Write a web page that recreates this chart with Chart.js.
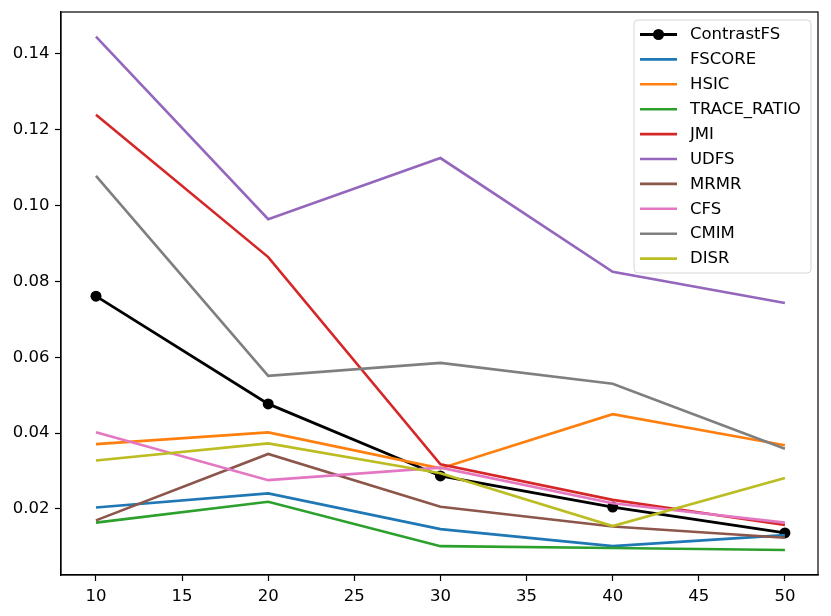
<!DOCTYPE html>
<html>
<head>
<meta charset="utf-8">
<script src="https://cdn.jsdelivr.net/npm/chart.js@4.4.0/dist/chart.umd.min.js"></script>
<style>
html,body{margin:0;padding:0;background:#fff;}
#wrap{width:831px;height:616px;}
</style>
</head>
<body>
<div id="wrap"><canvas id="c" width="831" height="616"></canvas></div>
<script>
const xValues = [10, 20, 30, 40, 50];
const xTicks = [10, 15, 20, 25, 30, 35, 40, 45, 50];
const yTicks = [0.02, 0.04, 0.06, 0.08, 0.10, 0.12, 0.14];
const seriesNames = ["ContrastFS","FSCORE","HSIC","TRACE_RATIO","JMI","UDFS","MRMR","CFS","CMIM","DISR"];
const contrastFS = [0.0761, 0.0477, 0.0287, 0.0205, 0.0137];
const fscore     = [0.0204, 0.0241, 0.0147, 0.0102, 0.0131];
const hsic       = [0.0371, 0.0402, 0.0307, 0.0450, 0.0368];
const traceRatio = [0.0164, 0.0219, 0.0102, 0.0097, 0.0092];
const jmi        = [0.1239, 0.0864, 0.0318, 0.0224, 0.0158];
const udfs       = [0.1445, 0.0964, 0.1125, 0.0825, 0.0743];
const mrmr       = [0.0170, 0.0345, 0.0206, 0.0154, 0.0124];
const cfs        = [0.0402, 0.0276, 0.0309, 0.0215, 0.0164];
const cmim       = [0.1078, 0.0551, 0.0585, 0.0530, 0.0359];
const disr       = [0.0328, 0.0373, 0.0294, 0.0155, 0.0282];
const seriesValues = [contrastFS, fscore, hsic, traceRatio, jmi, udfs, mrmr, cfs, cmim, disr];
const colors = ["#000000","#1f77b4","#ff7f0e","#2ca02c","#d62728","#9467bd","#8c564b","#e377c2","#7f7f7f","#bcbd22"];

const FONT = "DejaVu Sans";
const FSIZE = 16.5;
const n = seriesNames.length;
const datasets = seriesNames.map((name, i) => ({
  label: name,
  data: xValues.map((x, j) => ({x: x, y: seriesValues[i][j]})),
  borderColor: colors[i],
  backgroundColor: colors[i],
  borderWidth: i === 0 ? 2.8 : 2.6,
  pointRadius: i === 0 ? 5.5 : 0,
  pointHoverRadius: i === 0 ? 5.5 : 0,
  pointBorderWidth: 0,
  tension: 0,
  fill: false,
  order: n - i
}));

const framePlugin = {
  id: 'frame',
  afterDraw(chart) {
    const ctx = chart.ctx;
    const a = chart.chartArea;
    ctx.save();
    ctx.strokeStyle = '#000';
    ctx.lineWidth = 1.2;
    ctx.strokeRect(a.left, a.top, a.right - a.left, a.bottom - a.top);

    // legend
    const boxL = 634, boxT = 20, boxW = 177, boxH = 253;
    const r = 4;
    ctx.beginPath();
    ctx.moveTo(boxL + r, boxT);
    ctx.lineTo(boxL + boxW - r, boxT);
    ctx.quadraticCurveTo(boxL + boxW, boxT, boxL + boxW, boxT + r);
    ctx.lineTo(boxL + boxW, boxT + boxH - r);
    ctx.quadraticCurveTo(boxL + boxW, boxT + boxH, boxL + boxW - r, boxT + boxH);
    ctx.lineTo(boxL + r, boxT + boxH);
    ctx.quadraticCurveTo(boxL, boxT + boxH, boxL, boxT + boxH - r);
    ctx.lineTo(boxL, boxT + r);
    ctx.quadraticCurveTo(boxL, boxT, boxL + r, boxT);
    ctx.closePath();
    ctx.fillStyle = 'rgba(255,255,255,0.8)';
    ctx.fill();
    ctx.strokeStyle = '#d6d6d6';
    ctx.lineWidth = 1;
    ctx.stroke();

    ctx.font = FSIZE + 'px "' + FONT + '"';
    ctx.textBaseline = 'middle';
    ctx.textAlign = 'left';
    chart.data.datasets.forEach((ds, i) => {
      const y = 34.5 + i * 24.9;
      ctx.strokeStyle = ds.borderColor;
      ctx.lineWidth = ds.borderWidth;
      ctx.beginPath();
      ctx.moveTo(640, y);
      ctx.lineTo(677, y);
      ctx.stroke();
      if (ds.pointRadius > 0) {
        ctx.fillStyle = ds.borderColor;
        ctx.beginPath();
        ctx.arc(658.5, y, ds.pointRadius, 0, Math.PI * 2);
        ctx.fill();
      }
      ctx.fillStyle = '#000';
      ctx.fillText(ds.label, 690, y + 0.5);
    });
    ctx.restore();
  }
};

new Chart(document.getElementById('c'), {
  type: 'line',
  data: { datasets: datasets },
  options: {
    responsive: false,
    animation: false,
    devicePixelRatio: 1,
    layout: { padding: { top: 12, right: 13, left: 0, bottom: 0 } },
    plugins: { legend: { display: false }, tooltip: { enabled: false } },
    scales: {
      x: {
        type: 'linear',
        min: 7.97,
        max: 51.92,
        afterBuildTicks(axis) { axis.ticks = xTicks.map(v => ({value: v})); },
        afterFit(axis) { axis.height = 41; axis.paddingLeft = 0; axis.paddingRight = 0; },
        grid: { drawOnChartArea: false, drawTicks: true, tickLength: 6, color: '#000', tickWidth: 1.2 },
        border: { display: true, color: '#000', width: 1.2 },
        ticks: { color: '#000', font: { family: FONT, size: FSIZE }, padding: 6, maxRotation: 0, callback: v => String(v) }
      },
      y: {
        type: 'linear',
        min: 0.0026,
        max: 0.1510,
        afterBuildTicks(axis) { axis.ticks = yTicks.map(v => ({value: v})); },
        afterFit(axis) { axis.width = 61; axis.paddingTop = 0; axis.paddingBottom = 0; },
        grid: { drawOnChartArea: false, drawTicks: true, tickLength: 6, color: '#000', tickWidth: 1.2 },
        border: { display: true, color: '#000', width: 1.2 },
        ticks: { color: '#000', font: { family: FONT, size: FSIZE }, padding: 5.5, callback: v => v.toFixed(2) }
      }
    }
  },
  plugins: [framePlugin]
});
</script>
</body>
</html>
